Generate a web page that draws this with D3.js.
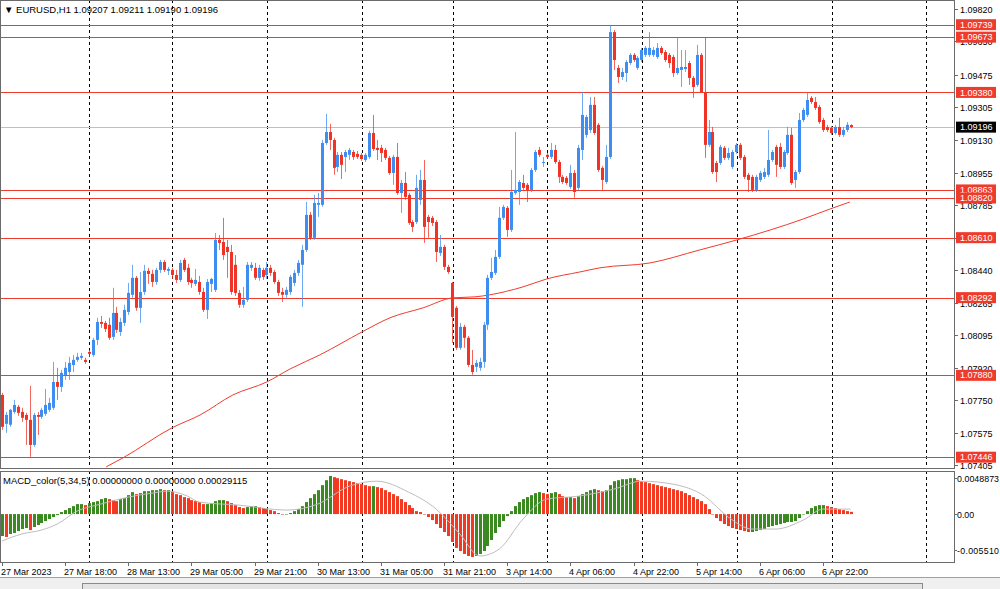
<!DOCTYPE html>
<html><head><meta charset="utf-8">
<script src="https://cdn.jsdelivr.net/npm/d3@7"></script>
<style>body{margin:0;background:#fff;overflow:hidden}svg{display:block;font-family:"Liberation Sans",Arial,sans-serif}</style>
</head><body><svg id="c" width="1000" height="589"></svg>
<script>
const symbolTitle = "EURUSD,H1";
const headerValues = ["1.09207","1.09211","1.09190","1.09196"];
const open = [1.07776,1.07623,1.07618,1.07686,1.07713,1.07686,1.07670,1.07644,1.07511,1.07670,
1.07660,1.07676,1.07697,1.07708,1.07845,1.07819,1.07882,1.07898,1.07935,1.07962,
1.07973,1.07962,1.08004,1.07988,1.08068,1.08163,1.08158,1.08148,1.08084,1.08211,
1.08110,1.08158,1.08216,1.08307,1.08397,1.08238,1.08322,1.08434,1.08418,1.08375,
1.08439,1.08481,1.08434,1.08439,1.08412,1.08386,1.08492,1.08450,1.08386,1.08365,
1.08375,1.08322,1.08227,1.08365,1.08333,1.08598,1.08587,1.08561,1.08534,1.08466,
1.08317,1.08254,1.08280,1.08450,1.08450,1.08397,1.08439,1.08412,1.08450,1.08428,
1.08375,1.08322,1.08307,1.08322,1.08370,1.08423,1.08466,1.08545,1.08731,1.08609,
1.08784,1.08784,1.09112,1.09170,1.09128,1.08985,1.09049,1.09038,1.09049,1.09064,
1.09054,1.09049,1.09022,1.09038,1.09165,1.09086,1.09086,1.09075,1.09033,1.08953,
1.09038,1.08847,1.08900,1.08837,1.08693,1.08693,1.08810,1.08916,1.08720,1.08715,
1.08693,1.08529,1.08561,1.08455,1.08370,1.08238,1.08026,1.08137,1.08079,1.07935,
1.07925,1.07920,1.07951,1.08148,1.08397,1.08423,1.08508,1.08715,1.08768,1.08651,
1.08847,1.08852,1.08900,1.08890,1.08863,1.08969,1.09075,1.09006,1.09049,1.09038,
1.09075,1.09011,1.08932,1.08927,1.08879,1.08953,1.08874,1.09075,1.09155,1.09181,
1.09314,1.09208,1.08980,1.08905,1.09038,1.09700,1.09510,1.09462,1.09483,1.09536,
1.09579,1.09510,1.09552,1.09579,1.09579,1.09579,1.09568,1.09616,1.09594,1.09579,
1.09568,1.09483,1.09499,1.09504,1.09536,1.09457,1.09420,1.09579,1.09382,1.09102,
1.09170,1.09006,1.09006,1.09086,1.09033,1.08985,1.09064,1.09102,1.09038,1.08943,
1.08932,1.08863,1.08916,1.08932,1.08943,1.09022,1.09091,1.09091,1.08985,1.09059,
1.09155,1.08916,1.08958,1.09234,1.09261,1.09351,1.09329,1.09303,1.09234,1.09197,
1.09192,1.09165,1.09197,1.09155,1.09181,1.09207];
const high = [1.07787,1.07686,1.07702,1.07750,1.07723,1.07708,1.07681,1.07824,1.07681,1.07686,
1.07708,1.07808,1.07761,1.07951,1.07920,1.07909,1.07951,1.07978,1.07988,1.07999,
1.07999,1.07973,1.08015,1.08079,1.08185,1.08195,1.08169,1.08185,1.08344,1.08243,
1.08185,1.08254,1.08370,1.08466,1.08407,1.08428,1.08466,1.08450,1.08439,1.08450,
1.08492,1.08492,1.08455,1.08450,1.08439,1.08492,1.08503,1.08471,1.08397,1.08444,
1.08407,1.08344,1.08391,1.08397,1.08635,1.08624,1.08715,1.08598,1.08572,1.08518,
1.08333,1.08349,1.08481,1.08481,1.08476,1.08466,1.08450,1.08481,1.08466,1.08439,
1.08386,1.08344,1.08349,1.08413,1.08439,1.08492,1.08572,1.08799,1.08746,1.08837,
1.08847,1.09128,1.09266,1.09213,1.09139,1.09064,1.09064,1.09075,1.09086,1.09075,
1.09070,1.09059,1.09059,1.09176,1.09261,1.09128,1.09102,1.09086,1.09043,1.09049,
1.09112,1.08916,1.08958,1.08847,1.08704,1.08943,1.08969,1.09022,1.08731,1.08725,
1.08704,1.08624,1.08572,1.08466,1.08375,1.08248,1.08158,1.08148,1.08089,1.08015,
1.07962,1.07973,1.08163,1.08413,1.08503,1.08545,1.08773,1.08784,1.08778,1.08969,
1.09170,1.08916,1.08943,1.08900,1.08980,1.09075,1.09091,1.09038,1.09059,1.09112,
1.09102,1.09022,1.08943,1.08937,1.08996,1.08969,1.09102,1.09382,1.09261,1.09356,
1.09356,1.09218,1.08990,1.09102,1.09738,1.09711,1.09526,1.09510,1.09552,1.09589,
1.09589,1.09573,1.09616,1.09626,1.09700,1.09621,1.09642,1.09626,1.09605,1.09589,
1.09579,1.09674,1.09605,1.09605,1.09547,1.09467,1.09632,1.09589,1.09674,1.09234,
1.09197,1.09017,1.09102,1.09096,1.09086,1.09075,1.09112,1.09112,1.09049,1.08953,
1.08943,1.08943,1.08964,1.08980,1.09181,1.09075,1.09102,1.09112,1.09075,1.09197,
1.09192,1.08969,1.09271,1.09298,1.09382,1.09361,1.09356,1.09314,1.09245,1.09208,
1.09202,1.09208,1.09245,1.09197,1.09223,1.09211];
const low = [1.07591,1.07575,1.07607,1.07676,1.07665,1.07633,1.07511,1.07448,1.07501,1.07564,
1.07649,1.07665,1.07686,1.07697,1.07750,1.07792,1.07856,1.07856,1.07898,1.07951,
1.07962,1.07941,1.07978,1.07978,1.08041,1.08132,1.08110,1.08068,1.08068,1.08105,
1.08089,1.08142,1.08200,1.08291,1.08222,1.08158,1.08307,1.08365,1.08349,1.08360,
1.08423,1.08428,1.08412,1.08391,1.08370,1.08375,1.08428,1.08360,1.08344,1.08354,
1.08307,1.08216,1.08179,1.08322,1.08322,1.08545,1.08492,1.08397,1.08307,1.08301,
1.08238,1.08238,1.08269,1.08434,1.08386,1.08381,1.08386,1.08391,1.08407,1.08365,
1.08301,1.08269,1.08291,1.08307,1.08354,1.08407,1.08243,1.08534,1.08598,1.08598,
1.08720,1.08773,1.09102,1.09075,1.08943,1.08958,1.08921,1.08958,1.09022,1.09022,
1.09027,1.09017,1.09011,1.09027,1.09070,1.09022,1.09011,1.09022,1.08943,1.08890,
1.08837,1.08741,1.08810,1.08678,1.08640,1.08683,1.08784,1.08582,1.08609,1.08672,
1.08481,1.08513,1.08439,1.08418,1.08052,1.08015,1.08015,1.08026,1.07925,1.07883,
1.07898,1.07904,1.07920,1.08121,1.08386,1.08412,1.08497,1.08704,1.08614,1.08640,
1.08837,1.08784,1.08863,1.08799,1.08852,1.08958,1.09038,1.08985,1.09027,1.09027,
1.09001,1.08900,1.08895,1.08890,1.08868,1.08821,1.08863,1.09022,1.09139,1.09165,
1.09155,1.08958,1.08863,1.08895,1.09027,1.09499,1.09430,1.09446,1.09435,1.09526,
1.09541,1.09499,1.09541,1.09568,1.09568,1.09568,1.09557,1.09579,1.09541,1.09510,
1.09462,1.09473,1.09409,1.09488,1.09420,1.09351,1.09409,1.09382,1.09033,1.09091,
1.08948,1.08905,1.08996,1.09022,1.09022,1.08974,1.09054,1.09022,1.08921,1.08852,
1.08852,1.08852,1.08905,1.08921,1.08932,1.09011,1.08932,1.08974,1.08974,1.09049,
1.08890,1.08874,1.08948,1.09223,1.09250,1.09319,1.09287,1.09213,1.09170,1.09170,
1.09155,1.09155,1.09144,1.09144,1.09170,1.09190];
const close = [1.07607,1.07670,1.07697,1.07723,1.07681,1.07655,1.07644,1.07511,1.07670,1.07660,
1.07697,1.07723,1.07734,1.07845,1.07819,1.07893,1.07920,1.07946,1.07962,1.07978,
1.07983,1.07951,1.07994,1.08068,1.08163,1.08153,1.08126,1.08079,1.08211,1.08121,
1.08163,1.08227,1.08317,1.08397,1.08238,1.08322,1.08434,1.08418,1.08375,1.08439,
1.08481,1.08439,1.08444,1.08412,1.08386,1.08476,1.08439,1.08375,1.08370,1.08386,
1.08322,1.08227,1.08375,1.08391,1.08598,1.08582,1.08518,1.08534,1.08322,1.08317,
1.08254,1.08280,1.08466,1.08466,1.08397,1.08450,1.08402,1.08450,1.08423,1.08375,
1.08317,1.08307,1.08333,1.08402,1.08423,1.08476,1.08545,1.08731,1.08609,1.08794,
1.08794,1.09112,1.09170,1.09128,1.08980,1.09049,1.08996,1.09064,1.09075,1.09038,
1.09038,1.09027,1.09049,1.09165,1.09080,1.09075,1.09059,1.09033,1.08953,1.09038,
1.08847,1.08900,1.08826,1.08688,1.08667,1.08874,1.08916,1.08667,1.08693,1.08688,
1.08534,1.08561,1.08455,1.08428,1.08190,1.08026,1.08137,1.08079,1.07935,1.07898,
1.07946,1.07951,1.08148,1.08397,1.08428,1.08508,1.08715,1.08773,1.08651,1.08852,
1.08863,1.08905,1.08874,1.08863,1.08969,1.09064,1.09049,1.09011,1.09038,1.09075,
1.09011,1.08932,1.08905,1.08900,1.08953,1.08852,1.09086,1.09261,1.09250,1.09314,
1.09165,1.08969,1.08916,1.09038,1.09700,1.09552,1.09462,1.09488,1.09541,1.09579,
1.09552,1.09563,1.09605,1.09616,1.09616,1.09605,1.09616,1.09589,1.09552,1.09536,
1.09483,1.09510,1.09515,1.09515,1.09457,1.09409,1.09579,1.09382,1.09102,1.09170,
1.08958,1.08958,1.09091,1.09033,1.09059,1.09064,1.09102,1.09033,1.08932,1.08916,
1.08863,1.08932,1.08953,1.08958,1.09022,1.09064,1.08996,1.08985,1.09064,1.09155,
1.08900,1.08958,1.09234,1.09287,1.09340,1.09329,1.09298,1.09223,1.09181,1.09181,
1.09165,1.09197,1.09155,1.09181,1.09208,1.09196];
const timeTickIndex = [0,16,32,48,64,80,96,112,128,144,160,176,192,208];
const timeTickLabels = ["27 Mar 2023","27 Mar 18:00","28 Mar 13:00","29 Mar 05:00","29 Mar 21:00","30 Mar 13:00","31 Mar 05:00","31 Mar 21:00","3 Apr 14:00","4 Apr 06:00","4 Apr 22:00","5 Apr 14:00","6 Apr 06:00","6 Apr 22:00"];
const separatorIndex = [22.1,43.1,67.1,91.1,114.2,138.2,162.1,186.1,210.2,234.2];
const priceTicks = [1.09820,1.09650,1.09475,1.09305,1.09130,1.08955,1.08785,1.08610,1.08440,1.08265,1.08095,1.07920,1.07750,1.07575,1.07405];
const levelPrices = [1.09739,1.09673,1.09380,1.08863,1.08820,1.08610,1.08292,1.07880,1.07446];
const lastPrice = 1.09196;
const maIndex = [26.4,30.7,43.1,50.2,58.5,67.1,73,80.6,91.2,98.3,106.7,114.3,119.8,123.6,132,138,146.4,151.5,164.2,176.8,186.2,203,209.8,214.8];
const maValue = [1.07395,1.07443,1.07602,1.07670,1.07776,1.07845,1.07914,1.07989,1.08110,1.08185,1.08238,1.08291,1.08296,1.08307,1.08349,1.08391,1.08428,1.08450,1.08476,1.08545,1.08598,1.08709,1.08762,1.08799];
const macdTitle = "MACD_color(5,34,5)";
const macdHeaderValues = ["0.00000000","0.00000000","0.00029115"];
const macdHist = [-0.00282,-0.00294,-0.00256,-0.00243,-0.00218,-0.00192,-0.00179,-0.00205,-0.00166,-0.00141,
-0.00115,-0.00090,-0.00064,-0.00038,-0.00013,0.00026,0.00051,0.00077,0.00102,0.00128,
0.00128,0.00115,0.00141,0.00154,0.00166,0.00192,0.00205,0.00192,0.00179,0.00166,
0.00192,0.00205,0.00243,0.00282,0.00256,0.00269,0.00294,0.00294,0.00307,0.00307,
0.00320,0.00307,0.00307,0.00282,0.00256,0.00243,0.00218,0.00205,0.00179,0.00166,
0.00154,0.00128,0.00128,0.00141,0.00166,0.00179,0.00179,0.00166,0.00141,0.00115,
0.00090,0.00077,0.00090,0.00102,0.00102,0.00090,0.00077,0.00064,0.00051,0.00038,
0.00013,0.00000,0.00000,0.00013,0.00038,0.00064,0.00102,0.00154,0.00205,0.00256,
0.00307,0.00371,0.00435,0.0048873,0.00474,0.00461,0.00448,0.00435,0.00422,0.00410,
0.00397,0.00384,0.00371,0.00358,0.00358,0.00346,0.00333,0.00307,0.00282,0.00256,
0.00230,0.00192,0.00154,0.00115,0.00077,0.00038,0.00026,0.00000,-0.00038,-0.00077,
-0.00128,-0.00179,-0.00230,-0.00282,-0.00358,-0.00435,-0.00474,-0.00512,-0.00538,-0.0055101,
-0.00538,-0.00512,-0.00474,-0.00410,-0.00333,-0.00243,-0.00166,-0.00090,-0.00026,0.00038,
0.00102,0.00154,0.00192,0.00218,0.00243,0.00269,0.00282,0.00269,0.00256,0.00269,
0.00282,0.00256,0.00230,0.00218,0.00218,0.00205,0.00230,0.00256,0.00282,0.00307,
0.00320,0.00307,0.00294,0.00307,0.00371,0.00422,0.00435,0.00448,0.00448,0.00461,
0.00461,0.00435,0.00422,0.00410,0.00397,0.00384,0.00371,0.00358,0.00346,0.00333,
0.00320,0.00307,0.00294,0.00269,0.00243,0.00218,0.00192,0.00166,0.00128,0.00064,
0.00000,-0.00051,-0.00090,-0.00128,-0.00154,-0.00179,-0.00192,-0.00205,-0.00218,-0.00230,
-0.00230,-0.00218,-0.00205,-0.00192,-0.00166,-0.00154,-0.00141,-0.00128,-0.00115,-0.00102,
-0.00102,-0.00090,-0.00051,0.00000,0.00038,0.00077,0.00102,0.00115,0.00115,0.00102,
0.00090,0.00077,0.00064,0.00051,0.00038,0.00029];
const signalIndex = [0,5,10,14,19,25,32,38,42,47,50,60,72,80,88,95,103,110,116,121,126,132,138,146,155,162,170,178,184,190,196,203,208,215];
const signalValue = [-0.00346,-0.00256,-0.00205,-0.00128,0.00038,0.00128,0.00218,0.00269,0.00294,0.00230,0.00154,0.00115,0.00051,0.00128,0.00358,0.00422,0.00282,0.00064,-0.00256,-0.00538,-0.00448,-0.00064,0.00192,0.00230,0.00320,0.00422,0.00384,0.00230,-0.00038,-0.00192,-0.00192,-0.00077,0.00064,0.00064];
const macdTicks = [0.0048873, 0, -0.0055101];
const macdTickLabels = ["0.0048873","0.00","-0.005510"];

const svg = d3.select("#c");
const W = 1000, H = 589, axisX = 954;
const main = {top: 0, bottom: 468};
const sub = {top: 471, bottom: 562};
const bull = "#3d8ef0", bear = "#ef3326", lvl = "#ef3b2c";
const n = open.length;
const x = d3.scaleLinear().domain([0, n - 1]).range([2, 2 + 3.947 * (n - 1)]);
const y = d3.scaleLinear().domain([1.07394, 1.09870]).range([467, 0]);
const ym = d3.scaleLinear().domain([d3.min(macdHist), d3.max(macdHist)]).range([557, 476]);

svg.append("rect").attr("width", W).attr("height", H).attr("fill", "#fff");
const defs = svg.append("defs");
defs.append("clipPath").attr("id", "cm").append("rect").attr("x", 1).attr("y", 1).attr("width", axisX - 1).attr("height", main.bottom - 1);
defs.append("clipPath").attr("id", "cs").append("rect").attr("x", 1).attr("y", sub.top + 1).attr("width", axisX - 1).attr("height", sub.bottom - sub.top - 1);

[[main.top, main.bottom], [sub.top, sub.bottom]].forEach(([t, b]) => {
  svg.append("g").selectAll("line").data(separatorIndex).join("line")
    .attr("x1", d => Math.round(x(d)) + 0.5).attr("x2", d => Math.round(x(d)) + 0.5)
    .attr("y1", t).attr("y2", b)
    .attr("stroke", "#000").attr("stroke-width", 1).attr("stroke-dasharray", "3,3")
    .attr("clip-path", t === 0 ? "url(#cm)" : "url(#cs)");
});

const gm = svg.append("g").attr("clip-path", "url(#cm)");
gm.selectAll("line.lv").data(levelPrices).join("line").attr("class", "lv")
  .attr("x1", 0).attr("x2", axisX).attr("y1", d => Math.round(y(d)) + 0.5).attr("y2", d => Math.round(y(d)) + 0.5)
  .attr("stroke", lvl).attr("stroke-width", 1);
gm.append("line").attr("x1", 0).attr("x2", axisX).attr("y1", Math.round(y(lastPrice)) + 0.5).attr("y2", Math.round(y(lastPrice)) + 0.5)
  .attr("stroke", "#c0c0c0");

gm.append("path").datum(maIndex.map((d, i) => [d, maValue[i]]))
  .attr("d", d3.line().x(d => x(d[0])).y(d => y(d[1])).curve(d3.curveMonotoneX))
  .attr("fill", "none").attr("stroke", lvl).attr("stroke-width", 1);

const idx = d3.range(n);
gm.selectAll("line.wk").data(idx).join("line").attr("class", "wk")
  .attr("x1", i => Math.round(x(i)) + 0.5).attr("x2", i => Math.round(x(i)) + 0.5)
  .attr("y1", i => y(high[i])).attr("y2", i => y(low[i]))
  .attr("stroke", i => close[i] >= open[i] ? bull : bear).attr("stroke-opacity", 0.75).attr("stroke-width", 1);
gm.selectAll("rect.bd").data(idx).join("rect").attr("class", "bd")
  .attr("x", i => Math.round(x(i)) - 1).attr("width", 3)
  .attr("y", i => y(Math.max(open[i], close[i])))
  .attr("height", i => Math.max(1, Math.abs(y(open[i]) - y(close[i]))))
  .attr("fill", i => close[i] >= open[i] ? bull : bear);

const gs = svg.append("g").attr("clip-path", "url(#cs)");
gs.selectAll("rect.h").data(idx).join("rect").attr("class", "h")
  .attr("x", i => Math.round(x(i)) - 1).attr("width", 3)
  .attr("y", i => Math.min(ym(0), ym(macdHist[i])))
  .attr("height", i => Math.max(0.5, Math.abs(ym(macdHist[i]) - ym(0))))
  .attr("fill", i => (i === 0 || macdHist[i] >= macdHist[i - 1]) ? "#3a8a21" : "#f23a22");
gs.append("path").datum(signalIndex.map((d, i) => [d, signalValue[i]]))
  .attr("d", d3.line().x(d => x(d[0])).y(d => ym(d[1])).curve(d3.curveMonotoneX))
  .attr("fill", "none").attr("stroke", "#bdbdbd").attr("stroke-width", 1);

const fr = svg.append("g").attr("fill", "none").attr("stroke", "#6b6b6b").attr("stroke-width", 1);
fr.append("rect").attr("x", 0.5).attr("y", 0.5).attr("width", axisX).attr("height", main.bottom);
fr.append("rect").attr("x", 0.5).attr("y", sub.top + 0.5).attr("width", axisX).attr("height", sub.bottom - sub.top);

const ax = svg.append("g").attr("font-size", 9).attr("fill", "#000");
priceTicks.forEach(p => {
  const yy = Math.round(y(p)) + 0.5;
  ax.append("line").attr("x1", axisX).attr("x2", axisX + 4).attr("y1", yy).attr("y2", yy).attr("stroke", "#6b6b6b");
  ax.append("text").attr("x", axisX + 6).attr("y", yy).attr("dy", "0.35em").text(d3.format(".5f")(p));
});
levelPrices.forEach(p => {
  const yy = y(p);
  ax.append("rect").attr("x", axisX + 2).attr("y", yy - 5.5).attr("width", 40).attr("height", 11).attr("fill", lvl);
  ax.append("text").attr("x", axisX + 6).attr("y", yy).attr("dy", "0.35em").attr("fill", "#fff").text(d3.format(".5f")(p));
});
ax.append("rect").attr("x", axisX + 2).attr("y", y(lastPrice) - 5.5).attr("width", 40).attr("height", 11).attr("fill", "#000");
ax.append("text").attr("x", axisX + 6).attr("y", y(lastPrice)).attr("dy", "0.35em").attr("fill", "#fff").text(d3.format(".5f")(lastPrice));

macdTicks.forEach((v, k) => {
  const yy = Math.round(ym(v)) + 0.5;
  const ty = k === 0 ? yy + 2 : (k === 2 ? yy - 7 : yy);
  ax.append("line").attr("x1", axisX).attr("x2", axisX + 3).attr("y1", ty).attr("y2", ty).attr("stroke", "#6b6b6b");
  ax.append("text").attr("x", axisX + 3).attr("y", ty).attr("dy", "0.35em").attr("font-size", 8.8)
    .attr("textLength", k === 1 ? null : 42).text(macdTickLabels[k]);
});

const tx = svg.append("g").attr("font-size", 9).attr("fill", "#000");
timeTickIndex.forEach((t, k) => {
  const xx = Math.round(x(t)) + 0.5;
  tx.append("line").attr("x1", xx).attr("x2", xx).attr("y1", sub.bottom).attr("y2", sub.bottom + 4).attr("stroke", "#6b6b6b");
  tx.append("text").attr("x", xx - 1.5).attr("y", sub.bottom + 13).text(timeTickLabels[k]);
});

svg.append("rect").attr("x", 0).attr("y", 577).attr("width", W).attr("height", 12).attr("fill", "#f0f0f0");
svg.append("line").attr("x1", 0).attr("x2", W).attr("y1", 577.5).attr("y2", 577.5).attr("stroke", "#a0a0a0");
svg.append("rect").attr("x", 82.5).attr("y", 583.5).attr("width", 840).attr("height", 10).attr("fill", "#e4e4e4").attr("stroke", "#8a8a8a");

svg.append("text").attr("x", 4).attr("y", 13).attr("font-size", 9.5).attr("fill", "#000")
  .text("▼ " + symbolTitle + "  " + headerValues.join(" "));
svg.append("text").attr("x", 3).attr("y", 484).attr("font-size", 9.5).attr("fill", "#000")
  .text(macdTitle + " " + macdHeaderValues.join(" "));
</script></body></html>
